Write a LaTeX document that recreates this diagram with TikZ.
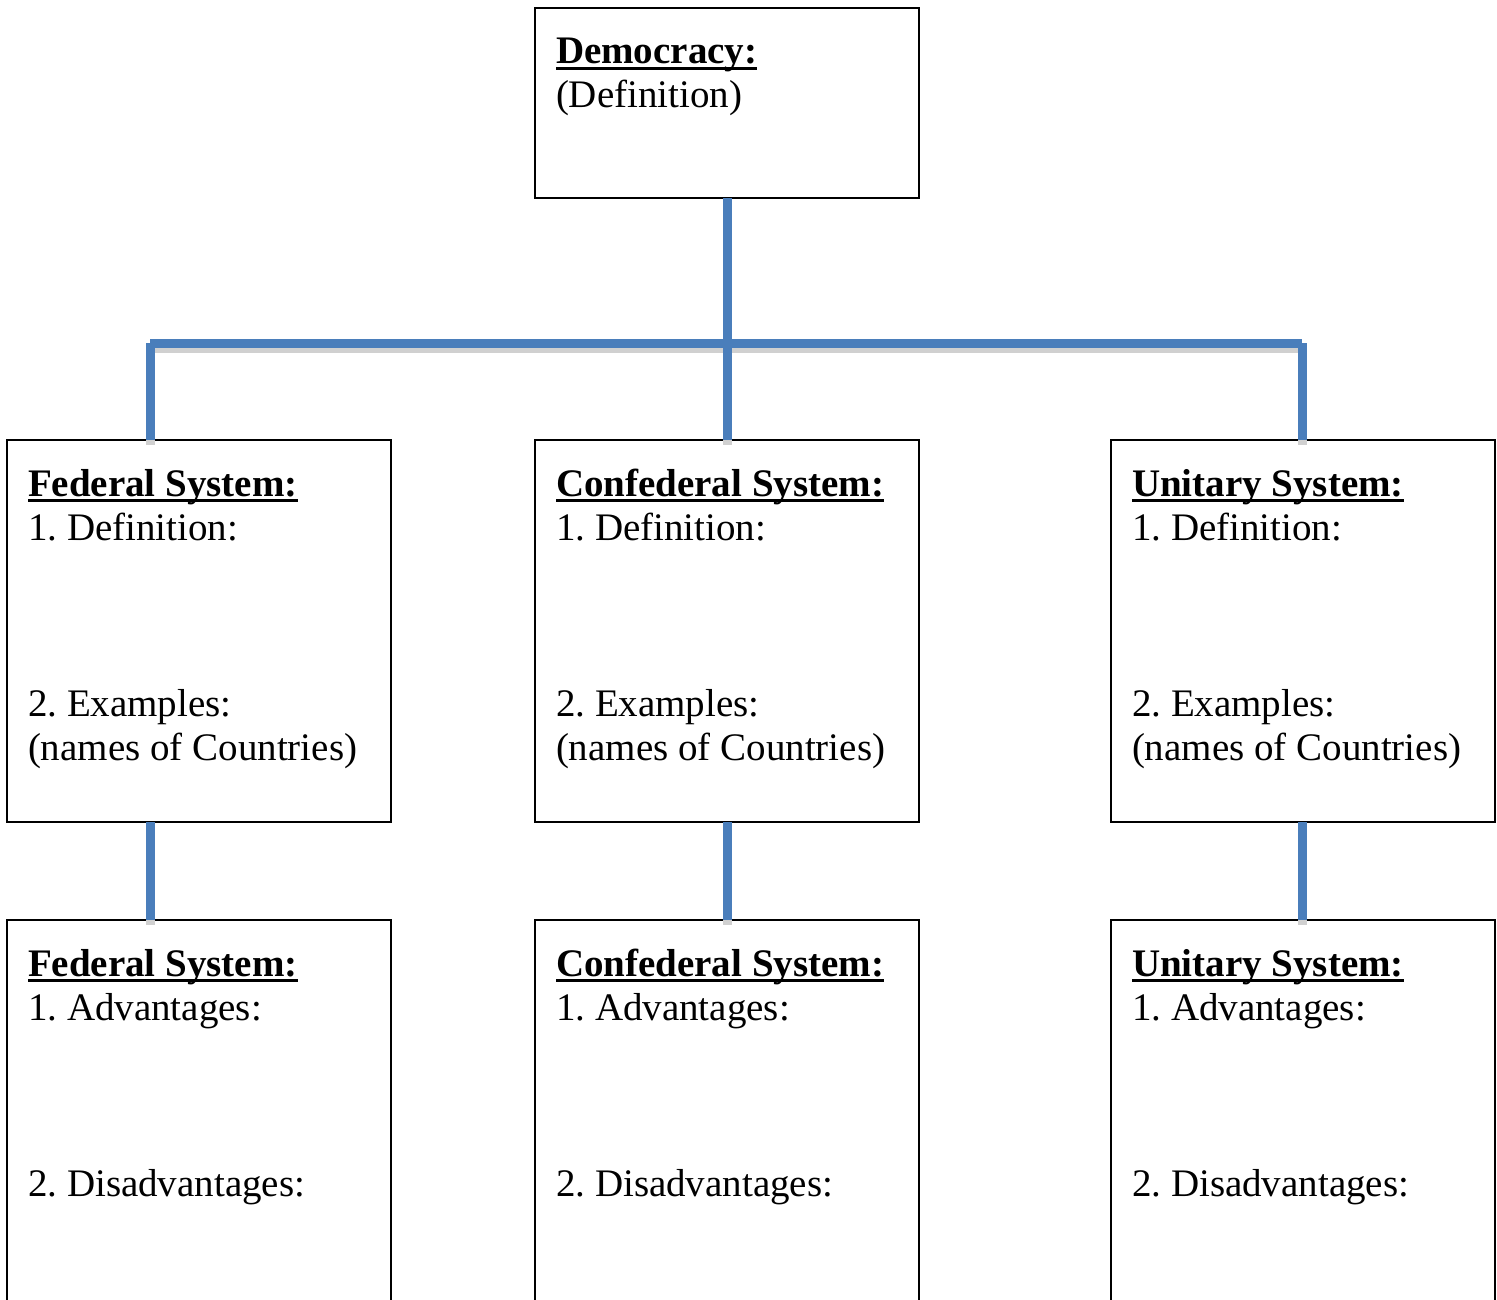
\documentclass[tikz,border=0pt]{standalone}
\usepackage{fontspec}
\setmainfont{Liberation Serif}
\definecolor{connblue}{RGB}{74,126,187}
\definecolor{shadowgray}{RGB}{208,208,208}
\newcommand\ulbold[1]{\setbox0\hbox{\bfseries #1}\rlap{\rule[-6pt]{\wd0}{3pt}}\box0}
\newcommand\cell[1]{\vtop{\hsize=375pt\parindent=0pt\parskip=0pt\frenchspacing\raggedright\leavevmode #1}}
\newcommand\allconns[1]{%
  \draw[#1] (dem.south) -- (busC);
  \draw[#1] (busL) -- (busR);
  \draw[#1] (busL) -- (busL |- fed.north);
  \draw[#1] (busC) -- (conf.north);
  \draw[#1] (busR) -- (busR |- uni.north);
  \draw[#1] (busL |- fed.south) -- (busL |- fedb.north);
  \draw[#1] (conf.south) -- (confb.north);
  \draw[#1] (busR |- uni.south) -- (busR |- unib.north);
}
\begin{document}
\begin{tikzpicture}[x=1pt,y=-1pt,
  box/.style={draw=black,line width=2pt,rectangle,inner sep=0pt,outer sep=0pt,minimum width=384pt},
  conn/.style={draw=connblue,line width=9pt,line cap=butt},
  connshadow/.style={draw=shadowgray,line width=9pt,line cap=butt,transform canvas={shift={(0.5pt,-5pt)}}},
  txt/.style={anchor=base west,inner sep=0pt,outer sep=0pt,font=\fontsize{39}{44}\selectfont}]
\useasboundingbox (0,0) rectangle (1497,1300);
\clip (0,0) rectangle (1497,1300);
% boxes
\node[box,minimum height=190pt] (dem) at (727,103) {};
\node[box,minimum height=382pt] (fed) at (199,631) {};
\node[box,minimum height=382pt] (conf) at (727,631) {};
\node[box,minimum height=382pt] (uni) at (1303,631) {};
\node[box,minimum height=410pt] (fedb) at (199,1125) {};
\node[box,minimum height=410pt] (confb) at (727,1125) {};
\node[box,minimum height=410pt] (unib) at (1303,1125) {};
% texts
\node[txt] (demtxt) at (556,64) {\cell{\ulbold{Democracy:}\\(Definition)}};
\node[txt] (fedtxt) at (28,496) {\cell{\ulbold{Federal System:}\\1. Definition:\\[132pt]2. Examples:\\(names of Countries)}};
\node[txt] (conftxt) at (556,496) {\cell{\ulbold{Confederal System:}\\1. Definition:\\[132pt]2. Examples:\\(names of Countries)}};
\node[txt] (unitxt) at (1132,496) {\cell{\ulbold{Unitary System:}\\1. Definition:\\[132pt]2. Examples:\\(names of Countries)}};
\node[txt] (fedbtxt) at (28,976) {\cell{\ulbold{Federal System:}\\1. Advantages:\\[132pt]2. Disadvantages:}};
\node[txt] (confbtxt) at (556,976) {\cell{\ulbold{Confederal System:}\\1. Advantages:\\[132pt]2. Disadvantages:}};
\node[txt] (unibtxt) at (1132,976) {\cell{\ulbold{Unitary System:}\\1. Advantages:\\[132pt]2. Disadvantages:}};
% bus coordinates
\coordinate (busL) at (150,343);
\coordinate (busC) at (727,343);
\coordinate (busR) at (1302,343);
% connectors
\allconns{connshadow}
\allconns{conn}
\end{tikzpicture}
\end{document}
